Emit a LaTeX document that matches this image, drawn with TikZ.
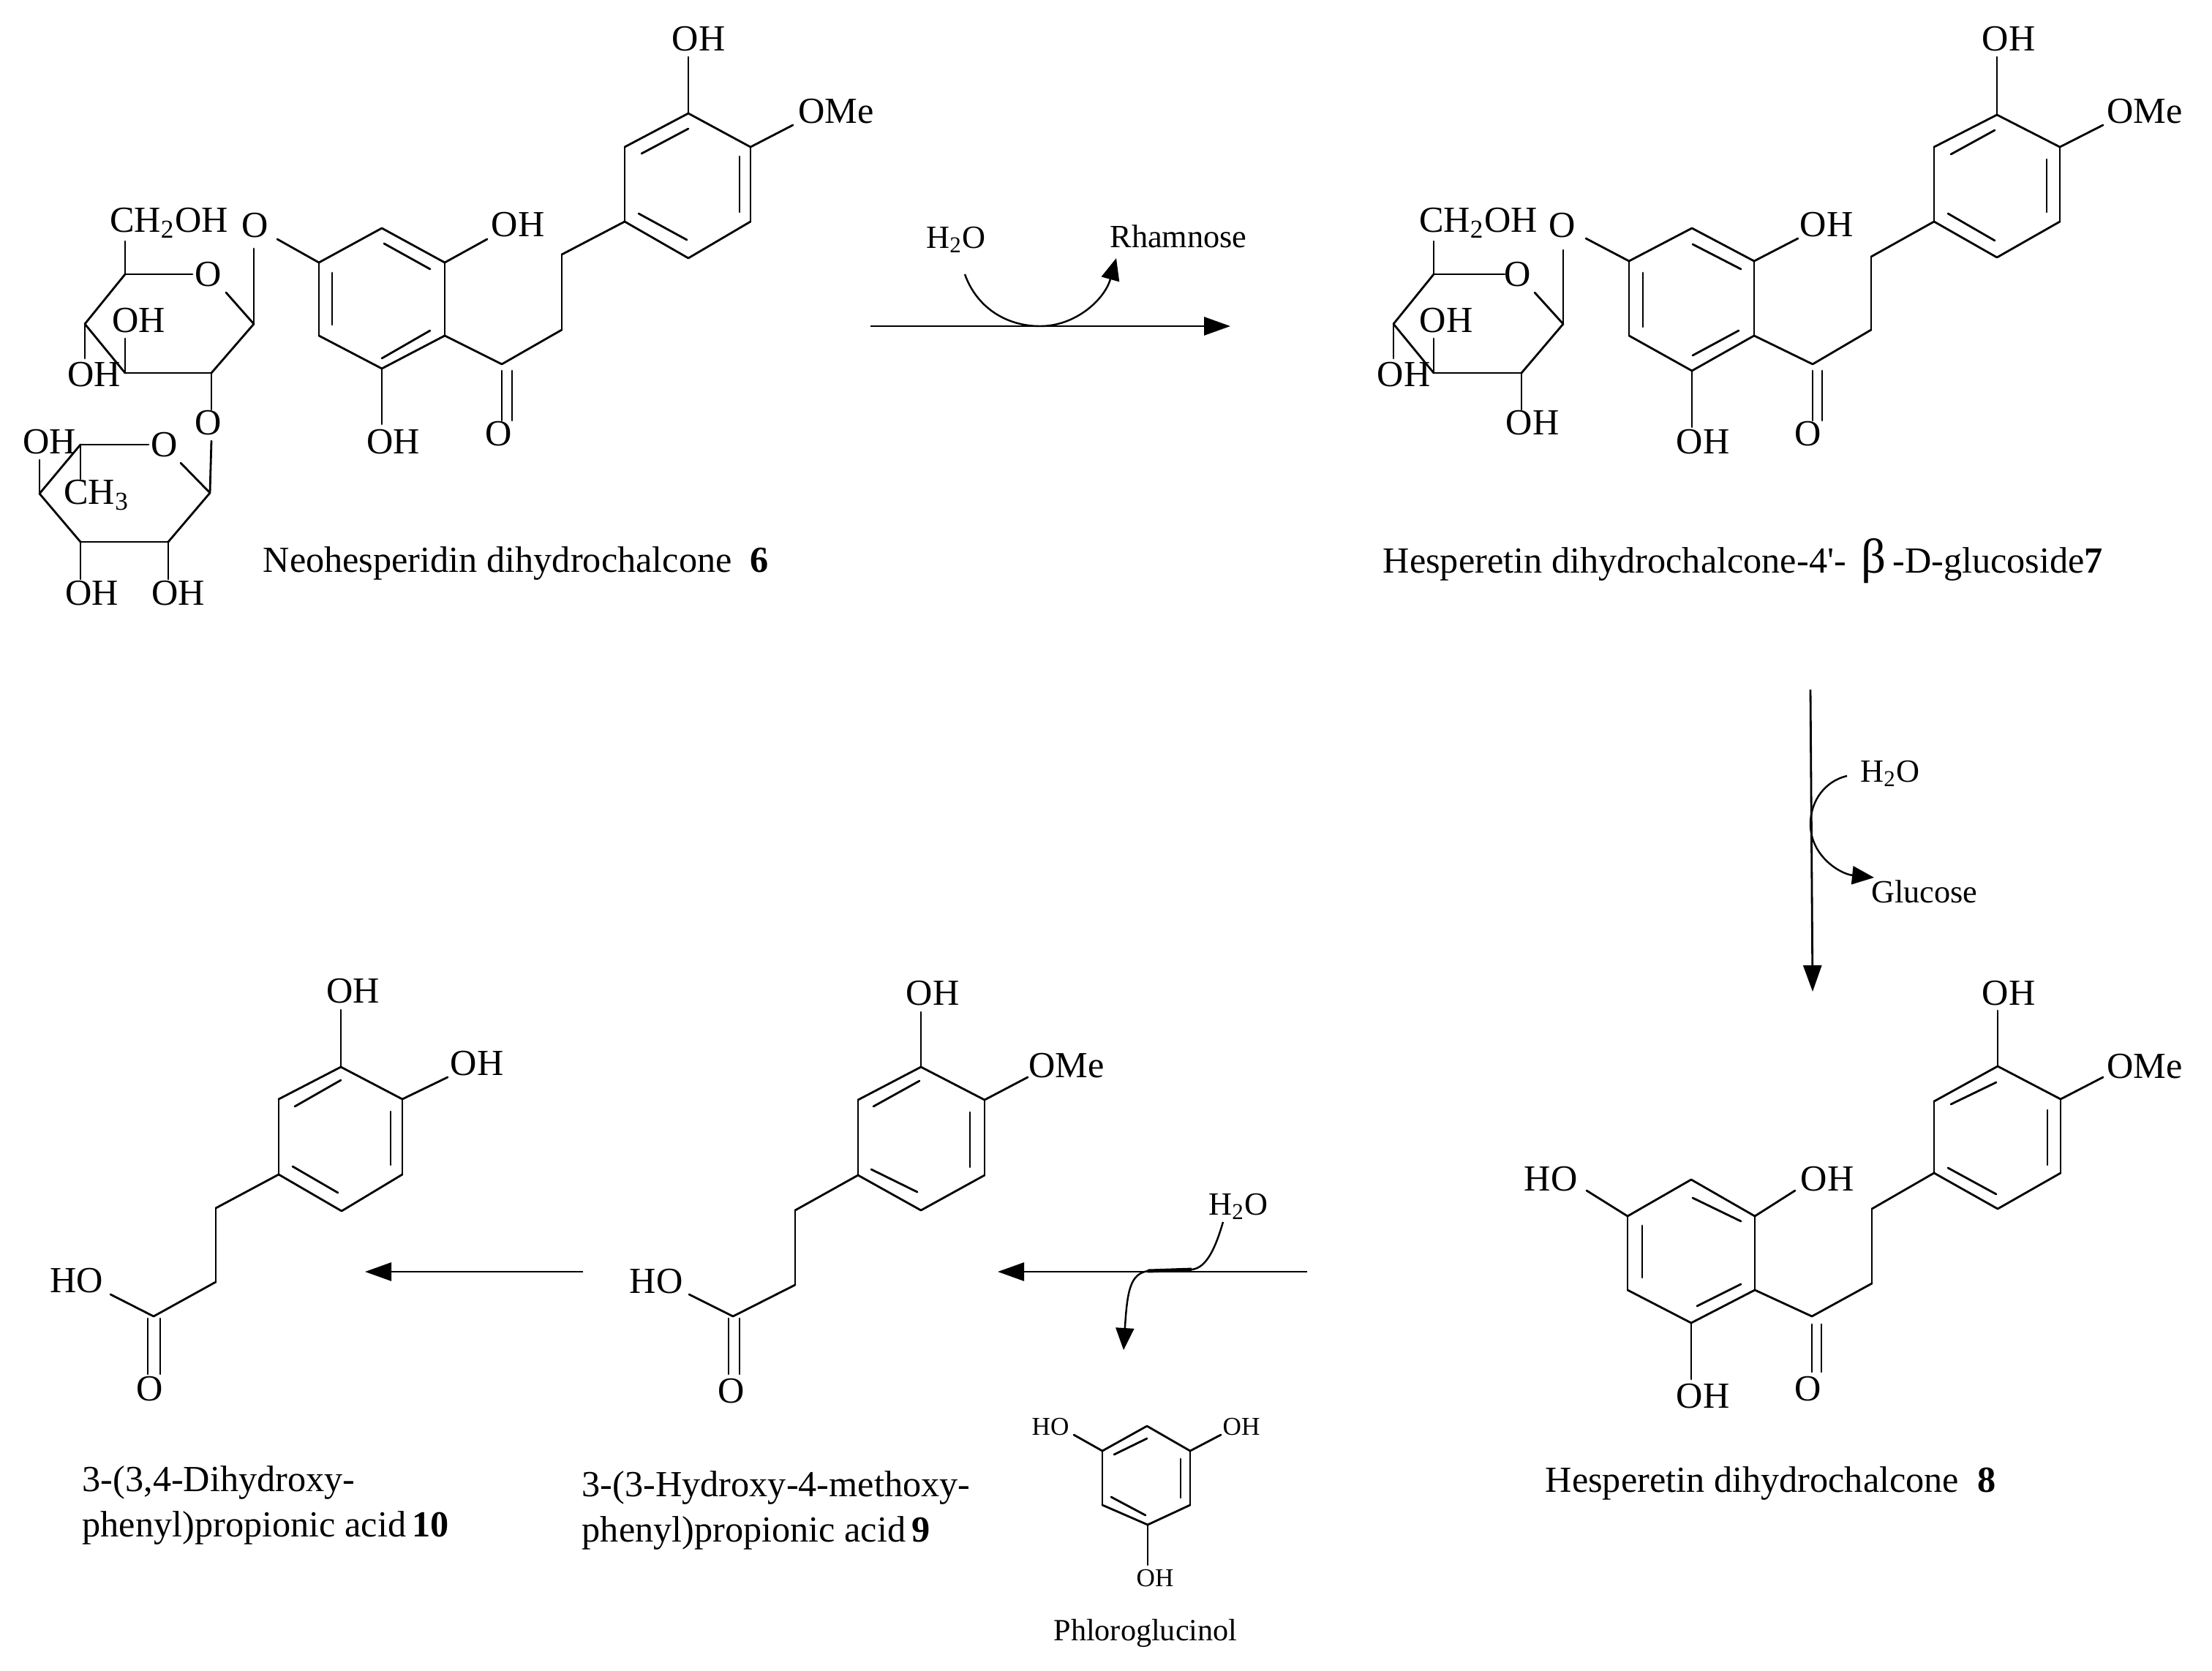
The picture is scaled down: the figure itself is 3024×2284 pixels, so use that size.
\documentclass[tikz,border=0pt]{standalone}
\usepackage{fontspec}
\setmainfont{Liberation Serif}
\usetikzlibrary{arrows.meta}
\tikzset{
    bond/.style={line width=0.8pt, line cap=round},
    rxn/.style={line width=0.8pt, -{Triangle[length=3.6mm, width=2.5mm]}},
    curly/.style={line width=0.7pt, -{Triangle[length=3mm, width=2.5mm]}},
    lbl/.style={inner sep=0pt, font=\fontsize{14.3}{17.6}\selectfont},
    small/.style={inner sep=0pt, font=\fontsize{12.6}{15}\selectfont},
    tiny/.style={inner sep=0pt, font=\fontsize{10}{12}\selectfont},
    caption/.style={lbl, anchor=west, align=left}
}
\newcommand{\atoms}[1]{\foreach \n/\x/\y in {#1} \coordinate (\n) at (\x, \y);}
\newcommand{\bonds}[1]{\foreach \p/\q in {#1} \draw[bond] (\p) -- (\q);}
\begin{document}
\begin{tikzpicture}[x=0.01cm, y=-0.01cm]
    \useasboundingbox (0, 0) rectangle (3024, 2284);

    \atoms{nb1/941/155, nb2/1026/201, nb3/1026/303, nb4/941/353, nb5/854/303, nb6/854/201,
        nb1o/941/78, nb2o/1084/171,
        ni1/877/210, ni2/941/176, ni3/1011/214, ni4/1011/290, ni5/873/292, ni6/939/328,
        nc1/768/348, nc2/768/451, nco/686/498, nd1/686/507, nd2/686/575, nd3/700/507, nd4/700/575,
        na1/522/312, na2/608/359, na3/608/459, na4/522/504, na5/436/459, na6/436/359,
        nj1/525/333, nj2/588/368, nj3/454/373, nj4/454/444, nj5/522/490, nj6/588/452,
        na2o/666/327, na4o/522/580, na6o/379/327,
        ns1/347/443, ns1o/347/340, ns1r/309/400, ns5r/263/375, ns5/171/375, ns5o/171/330,
        ns4/116/443, ns3/171/510, ns2/289/510, ns4o/116/490, ns3o/171/463, ns2o/289/560,
        nt0/289/603, nt1/287/674, nt1r/247/633, nt5r/203/608, nt5/110/608, nt4/54/675,
        nt3/110/741, nt2/230/741, nt4o/54/629, nt5o/110/655, nt3o/110/792, nt2o/230/792}
    \bonds{nb1/nb2, nb2/nb3, nb3/nb4, nb4/nb5, nb5/nb6, nb6/nb1, nb1/nb1o, nb2/nb2o,
        ni1/ni2, ni3/ni4, ni5/ni6, nb5/nc1, nc1/nc2, nc2/nco, nco/na3, nd1/nd2, nd3/nd4,
        na1/na2, na2/na3, na3/na4, na4/na5, na5/na6, na6/na1, nj1/nj2, nj3/nj4, nj5/nj6,
        na2/na2o, na4/na4o, na6/na6o, ns1/ns1o, ns1/ns1r, ns5r/ns5, ns5/ns5o, ns5/ns4,
        ns4/ns3, ns3/ns2, ns2/ns1, ns4/ns4o, ns3/ns3o, ns2/ns2o, nt0/nt1, nt1/nt1r,
        nt5r/nt5, nt5/nt4, nt4/nt3, nt3/nt2, nt2/nt1, nt4/nt4o, nt5/nt5o, nt3/nt3o, nt2/nt2o}
    \node[lbl] (noh1) at (955, 53) {OH};
    \node[lbl] (nome) at (1143, 152) {OMe};
    \node[lbl] (noh2) at (708, 307) {OH};
    \node[lbl] (noh3) at (538, 604) {OH};
    \node[lbl] (ncoo) at (682, 593) {O};
    \node[lbl] (neth) at (349, 308) {O};
    \node[lbl] (nrng) at (285, 375) {O};
    \node[lbl] (nglc) at (231, 305) {CH\textsubscript{2}OH};
    \node[lbl] (noh4) at (190, 438) {OH};
    \node[lbl] (noh5) at (129, 512) {OH};
    \node[lbl] (nlnk) at (285, 578) {O};
    \node[lbl] (nrn2) at (225, 608) {O};
    \node[lbl] (noh6) at (68, 604) {OH};
    \node[lbl] (nch3) at (132, 677) {CH\textsubscript{3}};
    \node[lbl] (noh7) at (126, 811) {OH};
    \node[lbl] (noh8) at (244, 811) {OH};
    \node[caption] (ncap) at (359, 770) {Neohesperidin dihydrochalcone\ \ \textbf{6}};

    \atoms{ra1/1190/446, ra2/1682/446, rc1/1319/375, rc2/1422/446, rc3/1526/353}
    \draw[rxn] (ra1) -- (ra2);
    \draw[curly] (rc1) .. controls (1335, 420) and (1375, 446) .. (rc2)
        .. controls (1470, 446) and (1510, 410) .. (rc3);
    \node[small] (rh2o) at (1307, 328) {H\textsubscript{2}O};
    \node[small] (rrha) at (1611, 323) {Rhamnose};

    \atoms{gb1/2730/157, gb2/2816/201, gb3/2816/303, gb4/2730/352, gb5/2644/303, gb6/2644/201,
        gb1o/2730/78, gb2o/2875/171,
        gi1/2667/211, gi2/2727/178, gi3/2798/218, gi4/2798/290, gi5/2663/292, gi6/2727/329,
        gc1/2558/351, gc2/2558/451, gco/2478/498, gd1/2478/507, gd2/2478/575, gd3/2491/507, gd4/2491/575,
        ga1/2313/312, ga2/2398/357, ga3/2398/459, ga4/2313/507, ga5/2227/459, ga6/2227/357,
        gj1/2314/334, gj2/2380/368, gj3/2246/373, gj4/2246/447, gj5/2314/486, gj6/2377/452,
        ga2o/2458/326, ga4o/2313/584, ga6o/2168/326,
        gs1/2137/443, gs1o/2137/342, gs1r/2098/400, gs5r/2057/375, gs5/1960/375, gs5o/1960/330,
        gs4/1905/443, gs3/1960/510, gs2/2080/510, gs4o/1905/490, gs3o/1960/463, gs2o/2080/560}
    \bonds{gb1/gb2, gb2/gb3, gb3/gb4, gb4/gb5, gb5/gb6, gb6/gb1, gb1/gb1o, gb2/gb2o,
        gi1/gi2, gi3/gi4, gi5/gi6, gb5/gc1, gc1/gc2, gc2/gco, gco/ga3, gd1/gd2, gd3/gd4,
        ga1/ga2, ga2/ga3, ga3/ga4, ga4/ga5, ga5/ga6, ga6/ga1, gj1/gj2, gj3/gj4, gj5/gj6,
        ga2/ga2o, ga4/ga4o, ga6/ga6o, gs1/gs1o, gs1/gs1r, gs5r/gs5, gs5/gs5o, gs5/gs4,
        gs4/gs3, gs3/gs2, gs2/gs1, gs4/gs4o, gs3/gs3o, gs2/gs2o}
    \node[lbl] (goh1) at (2746, 53) {OH};
    \node[lbl] (gome) at (2932, 152) {OMe};
    \node[lbl] (goh2) at (2497, 307) {OH};
    \node[lbl] (goh3) at (2328, 604) {OH};
    \node[lbl] (gcoo) at (2472, 593) {O};
    \node[lbl] (geth) at (2136, 308) {O};
    \node[lbl] (grng) at (2075, 375) {O};
    \node[lbl] (gglc) at (2021, 305) {CH\textsubscript{2}OH};
    \node[lbl] (goh4) at (1977, 438) {OH};
    \node[lbl] (goh5) at (1919, 512) {OH};
    \node[lbl] (goh6) at (2095, 578) {OH};
    \node[caption] (gcap) at (1890, 767) {Hesperetin dihydrochalcone-4\textquotesingle-\ \,{\fontsize{19}{19}\selectfont β}\,-D-glucoside\textbf{7}};

    \atoms{sa1/2475/943, sa2/2478/1356, sc1/2525/1061, sc2/2475/1127, sc3/2562/1200}
    \draw[rxn] (sa1) -- (sa2);
    \draw[curly] (sc1) .. controls (2495, 1068) and (2475, 1095) .. (sc2)
        .. controls (2475, 1170) and (2515, 1195) .. (sc3);
    \node[small] (sh2o) at (2584, 1058) {H\textsubscript{2}O};
    \node[small] (sglu) at (2631, 1219) {Glucose};

    \atoms{hb1/2731/1458, hb2/2817/1503, hb3/2817/1604, hb4/2731/1653, hb5/2644/1604, hb6/2644/1506,
        hb1o/2731/1382, hb2o/2875/1473,
        hi1/2667/1510, hi2/2729/1480, hi3/2799/1518, hi4/2799/1593, hi5/2663/1597, hi6/2729/1633,
        hc1/2559/1653, hc2/2559/1755, hco/2477/1800, hd1/2477/1811, hd2/2477/1876, hd3/2490/1811, hd4/2490/1876,
        ha1/2312/1613, ha2/2399/1663, ha3/2399/1764, ha4/2312/1809, ha5/2225/1764, ha6/2225/1663,
        hj1/2314/1638, hj2/2380/1670, hj3/2245/1676, hj4/2245/1747, hj5/2320/1786, hj6/2380/1756,
        ha2o/2454/1628, ha4o/2312/1886, ha6o/2169/1628}
    \bonds{hb1/hb2, hb2/hb3, hb3/hb4, hb4/hb5, hb5/hb6, hb6/hb1, hb1/hb1o, hb2/hb2o,
        hi1/hi2, hi3/hi4, hi5/hi6, hb5/hc1, hc1/hc2, hc2/hco, hco/ha3, hd1/hd2, hd3/hd4,
        ha1/ha2, ha2/ha3, ha3/ha4, ha4/ha5, ha5/ha6, ha6/ha1, hj1/hj2, hj3/hj4, hj5/hj6,
        ha2/ha2o, ha4/ha4o, ha6/ha6o}
    \node[lbl] (hoh1) at (2746, 1358) {OH};
    \node[lbl] (home) at (2932, 1458) {OMe};
    \node[lbl] (hoh2) at (2498, 1612) {OH};
    \node[lbl] (hoh3) at (2120, 1612) {HO};
    \node[lbl] (hoh4) at (2328, 1909) {OH};
    \node[lbl] (hcoo) at (2472, 1899) {O};
    \node[caption] (hcap) at (2112, 2028) {Hesperetin dihydrochalcone\ \ \textbf{8}};

    \atoms{ta1/1787/1739, ta2/1364/1739, tc1/1672/1671, tc2/1629/1736, tc3/1569/1738, tc4/1536/1846}
    \draw[rxn] (ta1) -- (ta2);
    \draw[line width=1.4pt] (tc2) -- (tc3);
    \draw[line width=0.7pt] (tc1) .. controls (1662, 1705) and (1650, 1734) .. (tc2);
    \draw[curly] (tc3) .. controls (1545, 1742) and (1541, 1765) .. (tc4);
    \node[small] (th2o) at (1693, 1650) {H\textsubscript{2}O};

    \atoms{mb1/1259/1459, mb2/1346/1504, mb3/1346/1607, mb4/1259/1655, mb5/1173/1607, mb6/1173/1504,
        mb1o/1259/1384, mb2o/1405/1473,
        mi1/1194/1513, mi2/1257/1478, mi3/1326/1521, mi4/1326/1596, mi5/1191/1599, mi6/1254/1630,
        mc1/1087/1655, mc2/1087/1757, mco/1002/1800, md1/996/1803, md2/996/1879, md3/1011/1803, md4/1011/1879,
        moh/942/1770}
    \bonds{mb1/mb2, mb2/mb3, mb3/mb4, mb4/mb5, mb5/mb6, mb6/mb1, mb1/mb1o, mb2/mb2o,
        mi1/mi2, mi3/mi4, mi5/mi6, mb5/mc1, mc1/mc2, mc2/mco, md1/md2, md3/md4, mco/moh}
    \node[lbl] (moh1) at (1275, 1358) {OH};
    \node[lbl] (mome) at (1458, 1457) {OMe};
    \node[lbl] (mho) at (897, 1752) {HO};
    \node[lbl] (mcoo) at (1000, 1902) {O};
    \node[caption] (mcap) at (795, 2065) {3-(3-Hydroxy-4-methoxy-\\phenyl)propionic acid\,\textbf{9}};

    \atoms{pr1/1568/1950, pr2/1627/1984, pr3/1627/2058, pr4/1569/2085, pr5/1507/2058, pr6/1507/1984,
        pi1/1523/1989, pi2/1568/1967, pi3/1614/1995, pi4/1614/2048, pi5/1519/2047, pi6/1566/2072,
        pr2o/1669/1962, pr4o/1569/2140, pr6o/1468/1962}
    \bonds{pr1/pr2, pr2/pr3, pr3/pr4, pr4/pr5, pr5/pr6, pr6/pr1, pi1/pi2, pi3/pi4, pi5/pi6,
        pr2/pr2o, pr4/pr4o, pr6/pr6o}
    \node[tiny] (pho) at (1436, 1951) {HO};
    \node[tiny] (poh1) at (1697, 1951) {OH};
    \node[tiny] (poh2) at (1579, 2158) {OH};
    \node[inner sep=0pt, font=\fontsize{12}{14}\selectfont] (pnam) at (1566, 2233) {Phloroglucinol};

    \atoms{ua1/797/1739, ua2/499/1739}
    \draw[rxn] (ua1) -- (ua2);

    \atoms{db1/466/1459, db2/550/1503, db3/550/1606, db4/467/1656, db5/381/1606, db6/381/1503,
        db1o/466/1381, db2o/612/1473,
        di1/403/1513, di2/466/1477, di3/534/1520, di4/534/1593, di5/400/1595, di6/462/1631,
        dc1/295/1652, dc2/295/1753, dco/210/1800, dd1/202/1803, dd2/202/1879, dd3/219/1803, dd4/219/1879,
        doh/151/1770}
    \bonds{db1/db2, db2/db3, db3/db4, db4/db5, db5/db6, db6/db1, db1/db1o, db2/db2o,
        di1/di2, di3/di4, di5/di6, db5/dc1, dc1/dc2, dc2/dco, dd1/dd2, dd3/dd4, dco/doh}
    \node[lbl] (doh1) at (483, 1355) {OH};
    \node[lbl] (doh2) at (652, 1454) {OH};
    \node[lbl] (dho) at (105, 1751) {HO};
    \node[lbl] (dcoo) at (205, 1899) {O};
    \node[caption] (dcap) at (112, 2058) {3-(3,4-Dihydroxy-\\phenyl)propionic acid\,\textbf{10}};
\end{tikzpicture}
\end{document}
